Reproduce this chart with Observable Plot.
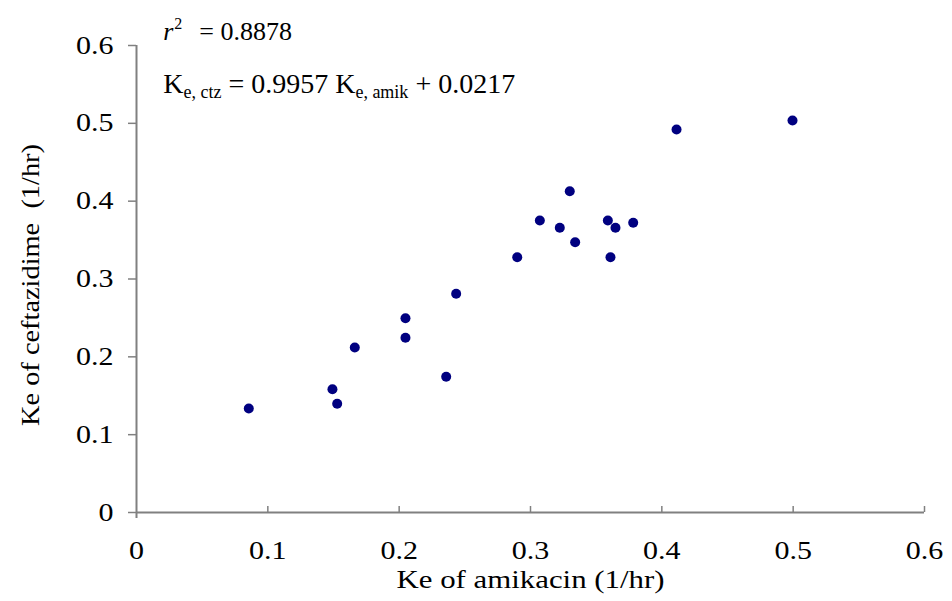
<!DOCTYPE html>
<html><head><meta charset="utf-8">
<script src="https://cdn.jsdelivr.net/npm/d3@7"></script>
<script src="https://cdn.jsdelivr.net/npm/@observablehq/plot@0.6"></script>
<style>
html,body{margin:0;padding:0;background:#fff;}
#chart svg{display:block;}
</style></head><body><div id="chart"></div>
<script>
// Data
const keAmikacin    = [0.0855,0.1492,0.1528,0.1662,0.2048,0.2048,0.2358,0.2434,0.2899,0.3071,0.3223,0.3299,0.3340,0.3589,0.3609,0.3647,0.3782,0.4112,0.4995];
const keCeftazidime = [0.1336,0.1584,0.1397,0.2120,0.2496,0.2245,0.1744,0.2810,0.3280,0.3752,0.3658,0.4128,0.3473,0.3752,0.3280,0.3658,0.3722,0.4921,0.5037];
const tickValues = [0, 0.1, 0.2, 0.3, 0.4, 0.5, 0.6];
const tickLabels = ["0", "0.1", "0.2", "0.3", "0.4", "0.5", "0.6"];
const xLabel = "Ke of amikacin (1/hr)";
const yLabel = "Ke of ceftazidime\u00a0 (1/hr)";
const r2Value = "0.8878";
const slopeValue = "0.9957";
const interceptValue = "0.0217";

const points = keAmikacin.map((x, i) => ({x, y: keCeftazidime[i]}));
const fmt = d => tickLabels[tickValues.indexOf(d)];
const axisColor = "#808080";
const font = "Liberation Serif, DejaVu Serif, serif";

const plot = Plot.plot({
  width: 952, height: 601,
  marginLeft: 136, marginRight: 28, marginTop: 45, marginBottom: 89,
  style: {fontFamily: font, fontSize: "25px", color: "#000", background: "#fff"},
  x: {domain: [0, 0.6]},
  y: {domain: [0, 0.6]},
  marks: [
    Plot.axisX({ticks: tickValues, tickFormat: fmt, tickSize: 0, tickPadding: 29, label: null, fill: "#000", fontFamily: font}),
    Plot.axisY({ticks: tickValues, tickFormat: fmt, tickSize: 8, tickPadding: 15, label: null, stroke: axisColor, strokeWidth: 1.5, fill: "#000", fontFamily: font}),
    Plot.ruleX(tickValues.slice(1), {x: d => d, y1: 0, y2: 0, insetBottom: 6, stroke: axisColor, strokeWidth: 1.5}),
    Plot.ruleY([0], {stroke: axisColor, strokeWidth: 2}),
    Plot.ruleX([0], {stroke: axisColor, strokeWidth: 2, insetBottom: -6}),
    Plot.dot(points, {x: "x", y: "y", r: 5, fill: "#000080", stroke: "none"}),
    Plot.text([xLabel], {text: d => d, frameAnchor: "bottom", textAnchor: "middle", lineAnchor: "middle", dy: 67, fill: "#000", fontSize: 25, fontFamily: font, className: "xlab"}),
    Plot.text([yLabel], {text: d => d, frameAnchor: "left", textAnchor: "middle", lineAnchor: "middle", rotate: -90, dx: -106, dy: 6, fill: "#000", fontSize: 26, fontFamily: font, className: "ylab"})
  ]
});
document.getElementById("chart").appendChild(plot);

const svg = d3.select(plot);
svg.selectAll("text").attr("font-family", font).style("font-family", font);
svg.selectAll("g[aria-label='x-axis tick label'] text, g[aria-label='y-axis tick label'] text").each(function() {
  const len = this.getComputedTextLength();
  this.setAttribute("textLength", (len * 1.2).toFixed(1));
  this.setAttribute("lengthAdjust", "spacingAndGlyphs");
});
svg.selectAll(".xlab text").each(function(){ this.setAttribute("textLength", 268); this.setAttribute("lengthAdjust","spacingAndGlyphs"); });
svg.selectAll(".ylab text").each(function(){ this.setAttribute("textLength", 282); this.setAttribute("lengthAdjust","spacingAndGlyphs"); });

// annotations positioned through the plot's scales
const sx = plot.scale("x"), sy = plot.scale("y");
const ax = sx.apply(0.0207);
const r2 = svg.append("text")
  .attr("x", ax).attr("y", sy.apply(0.6065)).attr("text-anchor", "start")
  .attr("font-family", font).attr("font-size", 26).attr("fill", "#000");
r2.append("tspan").attr("font-style", "italic").text("r");
r2.append("tspan").attr("font-size", 16).attr("dy", -11).attr("dx", 1).text("2");
r2.append("tspan").attr("dy", 11).attr("dx", 17).text("= " + r2Value);

const eq = svg.append("text")
  .attr("x", ax).attr("y", sy.apply(0.5383)).attr("text-anchor", "start")
  .attr("font-family", font).attr("font-size", 28).attr("fill", "#000");
eq.append("tspan").text("K");
eq.append("tspan").attr("font-size", 18).attr("dy", 5).text("e, ctz");
eq.append("tspan").attr("dy", -5).text(" = " + slopeValue + " K");
eq.append("tspan").attr("font-size", 18).attr("dy", 5).text("e, amik");
eq.append("tspan").attr("dy", -5).text(" + " + interceptValue);
</script>
</body></html>
